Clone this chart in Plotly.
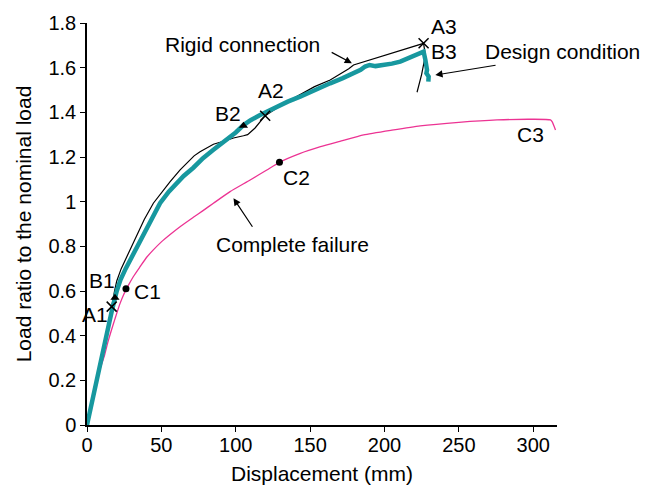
import plotly.graph_objects as go

# Rigid connection (black thin)
rigid_x = [0, 5, 10, 14, 16.6, 18.5, 20, 23, 26.5, 29.5, 33.4, 38.5, 44.6, 50, 55.9, 62.6, 67.1, 72, 76, 85, 94,
           98.5, 105.2, 108, 113, 116, 119.8, 130, 143.3, 153, 163.5, 170, 176, 179.2, 190.4, 200, 210.6, 218,
           226.3, 227.5, 225, 221.9]
rigid_y = [0, 0.155, 0.31, 0.44, 0.53, 0.6, 0.645, 0.70, 0.75, 0.795, 0.843, 0.92, 0.993, 1.04, 1.09, 1.142, 1.172,
           1.205, 1.224, 1.257, 1.275, 1.285, 1.295, 1.3, 1.33, 1.355, 1.385, 1.43, 1.48, 1.515, 1.545, 1.57, 1.595,
           1.612, 1.635, 1.655, 1.679, 1.695, 1.709, 1.655, 1.57, 1.49]

# Design condition (teal thick)
design_x = [0, 3, 6.5, 10, 13.9, 17, 20, 22.5, 26, 29.5, 33.4, 37.9, 43, 49.1, 55, 60.4, 65, 71.5, 78, 85, 94, 100,
            105.2, 110, 116.4, 127.6, 135, 143.3, 153, 163.5, 172, 179.2, 184, 187, 190, 194, 200, 205, 210.6,
            218, 224, 226.3, 227.5, 228.6, 228.2, 229.7, 229.5]
design_y = [0, 0.095, 0.2, 0.31, 0.425, 0.52, 0.6, 0.65, 0.70, 0.745, 0.796, 0.845, 0.92, 0.993, 1.045, 1.082, 1.115,
            1.152, 1.195, 1.232, 1.276, 1.31, 1.343, 1.365, 1.388, 1.425, 1.448, 1.47, 1.50, 1.53, 1.553, 1.575,
            1.59, 1.605, 1.612, 1.607, 1.612, 1.618, 1.627, 1.65, 1.668, 1.672, 1.635, 1.59, 1.575, 1.56, 1.537]

# Complete failure (pink thin)
failure_x = [0, 4, 8, 11.7, 14, 16.2, 18.8, 22, 24.4, 27.8, 31.2, 35.7, 40, 44.6, 50, 55.9, 63, 71.5, 78, 85,
             96.2, 109.7, 120.9, 129.4, 143, 157, 170, 186, 205, 224, 250, 275.7, 300, 311.6, 312.7, 315]
failure_y = [0, 0.13, 0.235, 0.31, 0.37, 0.42, 0.475, 0.54, 0.58, 0.625, 0.665, 0.709, 0.75, 0.784, 0.82, 0.853,
             0.89, 0.93, 0.96, 0.993, 1.045, 1.097, 1.142, 1.176, 1.215, 1.246, 1.27, 1.299, 1.32, 1.339, 1.355,
             1.366, 1.369, 1.366, 1.358, 1.321]

# Characteristic points
A_x = [16.6, 119.8, 226.3]
A_y = [0.53, 1.385, 1.709]
B_x = [18.8, 105.2]
B_y = [0.57, 1.34]
C_x = [26.2, 129.4]
C_y = [0.61, 1.176]

point_labels = ["A1", "B1", "C1", "B2", "A2", "C2", "A3", "B3", "C3"]
label_x = [5.4, 10.4, 40.7, 94.5, 123.5, 141, 240.2, 240.2, 298.4]
label_y = [0.493, 0.649, 0.597, 1.397, 1.497, 1.106, 1.784, 1.672, 1.299]

x_ticks = [0, 50, 100, 150, 200, 250, 300]
y_ticks = [0, 0.2, 0.4, 0.6, 0.8, 1, 1.2, 1.4, 1.6, 1.8]

FONT = "Liberation Sans, Arial, sans-serif"
TXT = dict(size=21, color="black", family=FONT)

fig = go.Figure()
fig.add_trace(go.Scatter(x=failure_x, y=failure_y, mode="lines",
                         line=dict(color="#ec3393", width=1.3, shape="spline", smoothing=0.5), showlegend=False))
fig.add_trace(go.Scatter(x=rigid_x, y=rigid_y, mode="lines",
                         line=dict(color="black", width=1.2), showlegend=False))
fig.add_trace(go.Scatter(x=design_x, y=design_y, mode="lines",
                         line=dict(color="#17989f", width=4.5), showlegend=False))
fig.add_trace(go.Scatter(x=A_x, y=A_y, mode="markers",
                         marker=dict(symbol="x-thin", size=10, line=dict(color="black", width=1.5)),
                         showlegend=False))
fig.add_trace(go.Scatter(x=B_x, y=B_y, mode="markers",
                         marker=dict(symbol="triangle-up", size=8, color="black"), showlegend=False))
fig.add_trace(go.Scatter(x=C_x, y=C_y, mode="markers",
                         marker=dict(symbol="circle", size=7, color="black"), showlegend=False))

annotations = []
for t, x, y in zip(point_labels, label_x, label_y):
    annotations.append(dict(x=x, y=y, xref="x", yref="y", text=t, showarrow=False, font=TXT,
                            xanchor="center", yanchor="middle"))

# Descriptive texts
annotations.append(dict(x=104.6, y=1.702, xref="x", yref="y", text="Rigid connection", showarrow=False, font=TXT,
                        xanchor="center", yanchor="middle"))
annotations.append(dict(x=(562.5 - 87) / 470, y=(425 - 51.7) / 402, xref="paper", yref="paper",
                        text="Design condition", showarrow=False, font=TXT, xanchor="center", yanchor="middle"))
annotations.append(dict(x=138.3, y=0.81, xref="x", yref="y", text="Complete failure", showarrow=False, font=TXT,
                        xanchor="center", yanchor="middle"))
# Arrows
for hx, hy, tx, ty in [(178.1, 1.62, 163.5, 1.672), (234.2, 1.567, 275.7, 1.612), (98.5, 1.015, 111.9, 0.881)]:
    annotations.append(dict(x=hx, y=hy, ax=tx, ay=ty, xref="x", yref="y", axref="x", ayref="y",
                            text="", showarrow=True, arrowhead=2, arrowsize=1.2, arrowwidth=1.2,
                            arrowcolor="black"))

fig.update_layout(
    width=654, height=490,
    margin=dict(l=87, r=97, t=23, b=65, autoexpand=False),
    paper_bgcolor="white", plot_bgcolor="white",
    font=dict(family=FONT, size=20, color="black"),
    annotations=annotations,
    xaxis=dict(range=[0, 316], tickvals=x_ticks, showgrid=False, zeroline=False, automargin=False,
               showline=True, linecolor="black", linewidth=1.5,
               ticks="outside", ticklen=5, tickwidth=1.2, tickcolor="black", ticklabelstandoff=-4,
               title=dict(text="Displacement (mm)", font=dict(size=21), standoff=12),
               tickfont=dict(size=20)),
    yaxis=dict(range=[0, 1.8], tickvals=y_ticks, showgrid=False, zeroline=False, automargin=False,
               showline=True, linecolor="black", linewidth=1.5,
               ticks="outside", ticklen=5, tickwidth=1.2, tickcolor="black",
               title=dict(text="Load ratio to the nominal load", font=dict(size=21), standoff=11),
               tickfont=dict(size=20)),
)

fig.write_html("out.html", config={"displayModeBar": False},
               post_script="document.body.style.margin='0';")
